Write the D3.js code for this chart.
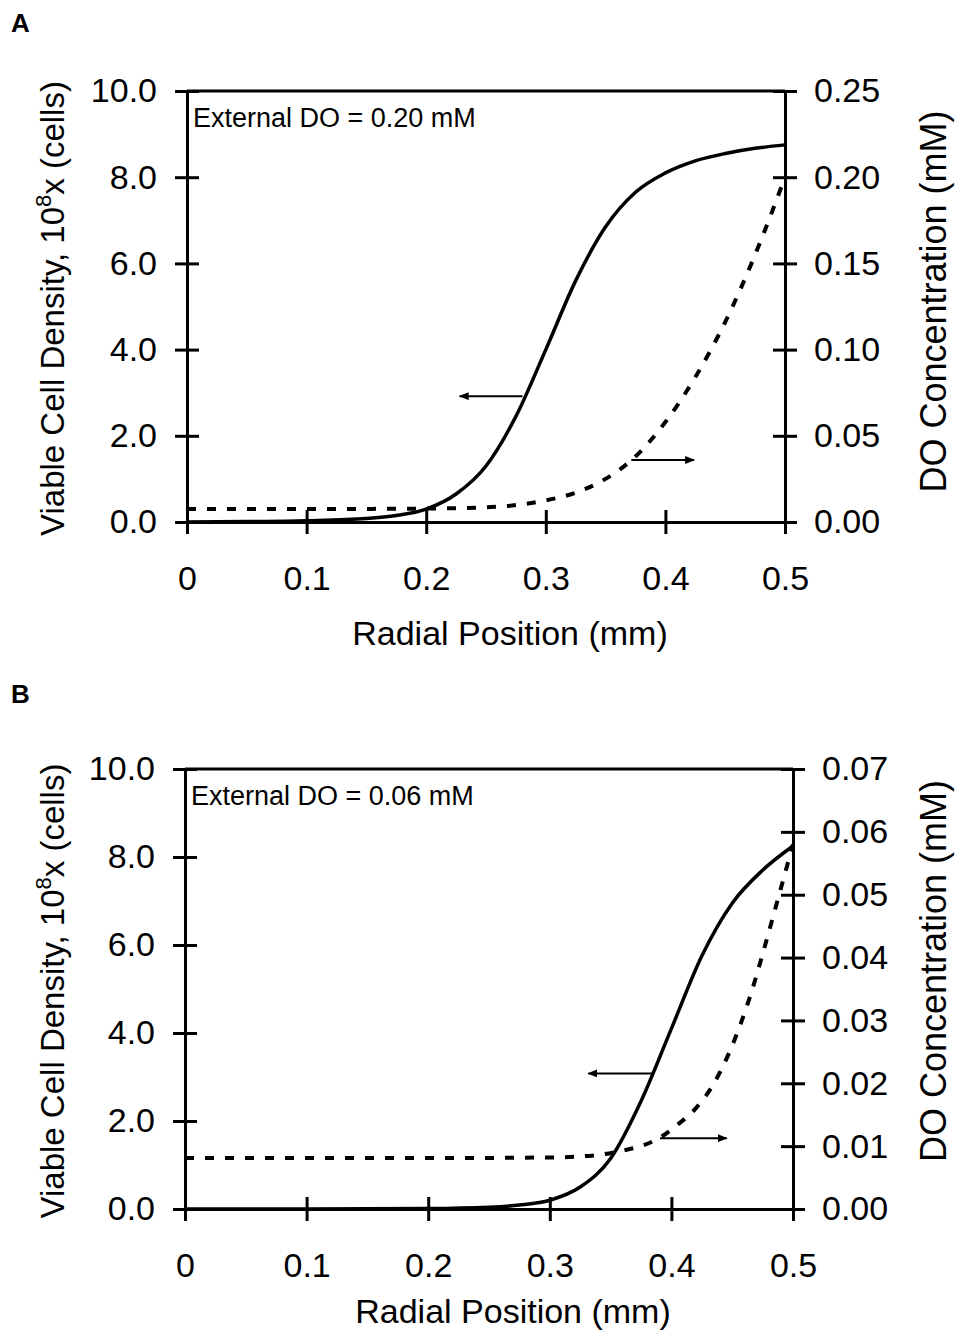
<!DOCTYPE html>
<html>
<head>
<meta charset="utf-8">
<script src="https://cdn.jsdelivr.net/npm/d3@7"></script>
<style>
body { margin: 0; background: #fff; }
svg text { font-family: Arial, "Liberation Sans", sans-serif; fill: #000; }
</style>
</head>
<body>
<div id="chart"></div>
<script>
// panel A: external DO = 0.20 mM
var radiusCellsA = [0, 0.05, 0.1, 0.15, 0.175, 0.2, 0.225, 0.25, 0.275, 0.3, 0.325, 0.35, 0.375, 0.4, 0.425, 0.45, 0.475, 0.5];
var cellsA       = [0, 0.01, 0.03, 0.08, 0.15, 0.3, 0.65, 1.3, 2.45, 4.0, 5.6, 6.85, 7.65, 8.1, 8.38, 8.55, 8.67, 8.75];
var radiusDoA    = [0, 0.05, 0.1, 0.15, 0.2, 0.25, 0.275, 0.3, 0.325, 0.35, 0.375, 0.4, 0.425, 0.45, 0.475, 0.5];
var doA          = [0.0075, 0.0075, 0.0075, 0.0076, 0.0078, 0.0085, 0.0098, 0.0125, 0.017, 0.025, 0.038, 0.058, 0.084, 0.116, 0.155, 0.2];

// panel B: external DO = 0.06 mM
var radiusCellsB = [0, 0.1, 0.2, 0.25, 0.275, 0.3, 0.325, 0.35, 0.375, 0.4, 0.425, 0.45, 0.475, 0.5];
var cellsB       = [0, 0, 0.01, 0.04, 0.09, 0.2, 0.5, 1.15, 2.45, 4.1, 5.75, 6.95, 7.7, 8.25];
var radiusDoB    = [0, 0.1, 0.2, 0.3, 0.34, 0.36, 0.375, 0.39, 0.405, 0.42, 0.435, 0.45, 0.465, 0.48, 0.49, 0.5];
var doB          = [0.0081, 0.0081, 0.0081, 0.0082, 0.0086, 0.0093, 0.01, 0.0113, 0.0134, 0.016, 0.02, 0.026, 0.034, 0.044, 0.051, 0.058];

// ticks
var xTicks = [0, 0.1, 0.2, 0.3, 0.4, 0.5];
var xTickLabels = ['0', '0.1', '0.2', '0.3', '0.4', '0.5'];
var leftTicks = [0, 2, 4, 6, 8, 10];
var rightTicksA = [0, 0.05, 0.1, 0.15, 0.2, 0.25];
var rightTicksB = [0, 0.01, 0.02, 0.03, 0.04, 0.05, 0.06, 0.07];

var chart_width = 955;
var chart_height = 1333;

var svg = d3.select('#chart')
    .append('svg')
    .attr('width', chart_width)
    .attr('height', chart_height);

var defs = svg.append('defs');
defs.append('marker')
    .attr('id', 'head')
    .attr('viewBox', '0 0 10 8')
    .attr('refX', 9)
    .attr('refY', 4)
    .attr('markerWidth', 10)
    .attr('markerHeight', 8)
    .attr('markerUnits', 'userSpaceOnUse')
    .attr('orient', 'auto')
    .append('path')
    .attr('d', 'M0,0 L10,4 L0,8 Z')
    .attr('fill', '#000');

var panels = [
    {
        letter: 'A', letterY: 32,
        left: 187, right: 785, top: 91, bottom: 522,
        rx: radiusCellsA, cells: cellsA, dx: radiusDoA, dO: doA,
        rMax: 0.25, rTicks: rightTicksA, rFmt: '.2f',
        note: 'External DO = 0.20 mM',
        titleGap: 123, rightTitleShift: -5,
        arrowL: [0.2805, 0.228, 2.92],
        arrowR: [0.3715, 0.424, 1.44]
    },
    {
        letter: 'B', letterY: 703,
        left: 185, right: 793, top: 769, bottom: 1209,
        rx: radiusCellsB, cells: cellsB, dx: radiusDoB, dO: doB,
        rMax: 0.07, rTicks: rightTicksB, rFmt: '.2f',
        note: 'External DO = 0.06 mM',
        titleGap: 114, rightTitleShift: -18,
        arrowL: [0.3846, 0.3317, 3.08],
        arrowR: [0.3906, 0.4455, 1.61]
    }
];

panels.forEach(function(p) {
    var xScale = d3.scaleLinear().domain([0, 0.5]).range([p.left, p.right]);
    var yScale = d3.scaleLinear().domain([0, 10]).range([p.bottom, p.top]);
    var y2Scale = d3.scaleLinear().domain([0, p.rMax]).range([p.bottom, p.top]);

    svg.append('text')
        .attr('x', 11)
        .attr('y', p.letterY)
        .attr('font-size', 26)
        .attr('font-weight', 'bold')
        .text(p.letter);

    // top border
    svg.append('line')
        .attr('x1', p.left).attr('x2', p.right)
        .attr('y1', p.top).attr('y2', p.top)
        .attr('stroke', '#000').attr('stroke-width', 3);

    var gx = svg.append('g')
        .attr('transform', 'translate(0,' + p.bottom + ')')
        .call(d3.axisBottom(xScale).tickValues(xTicks)
            .tickFormat(function(d, i) { return xTickLabels[i]; })
            .tickSizeInner(12).tickSizeOuter(0).tickPadding(32));
    gx.selectAll('.tick line').attr('y1', -12);

    var gl = svg.append('g')
        .attr('transform', 'translate(' + p.left + ',0)')
        .call(d3.axisLeft(yScale).tickValues(leftTicks)
            .tickFormat(d3.format('.1f'))
            .tickSizeInner(12).tickSizeOuter(0).tickPadding(18));
    gl.selectAll('.tick line').attr('x1', 12);

    var gr = svg.append('g')
        .attr('transform', 'translate(' + p.right + ',0)')
        .call(d3.axisRight(y2Scale).tickValues(p.rTicks)
            .tickFormat(d3.format(p.rFmt))
            .tickSizeInner(12).tickSizeOuter(0).tickPadding(17));
    gr.selectAll('.tick line').attr('x1', -12);

    [gx, gl, gr].forEach(function(g) {
        g.select('.domain').attr('stroke-width', 3);
        g.selectAll('.tick line').attr('stroke-width', 3);
        g.selectAll('.tick text')
            .attr('font-size', 34)
            .attr('font-family', 'Arial, "Liberation Sans", sans-serif');
    });

    // axis titles
    svg.append('text')
        .attr('x', (p.left + p.right) / 2 + 24)
        .attr('y', p.bottom + p.titleGap)
        .attr('text-anchor', 'middle')
        .attr('font-size', 34)
        .text('Radial Position (mm)');

    var lt = svg.append('text')
        .attr('transform', 'translate(64,' + ((p.top + p.bottom) / 2 + 2) + ') rotate(-90)')
        .attr('text-anchor', 'middle')
        .attr('font-size', 33);
    lt.append('tspan').text('Viable Cell Density, 10');
    lt.append('tspan').attr('font-size', 22).attr('dy', -13).text('8');
    lt.append('tspan').attr('dy', 13).text('x (cells)');

    svg.append('text')
        .attr('transform', 'translate(946,' + ((p.top + p.bottom) / 2 + p.rightTitleShift) + ') rotate(-90)')
        .attr('text-anchor', 'middle')
        .attr('font-size', 36)
        .text('DO Concentration (mM)');

    svg.append('text')
        .attr('x', p.left + 6)
        .attr('y', p.top + 36)
        .attr('font-size', 27)
        .text(p.note);

    // curves
    var cellLine = d3.line()
        .x(function(d) { return xScale(d[0]); })
        .y(function(d) { return yScale(d[1]); })
        .curve(d3.curveMonotoneX);
    var doLine = d3.line()
        .x(function(d) { return xScale(d[0]); })
        .y(function(d) { return y2Scale(d[1]); })
        .curve(d3.curveMonotoneX);

    svg.append('path')
        .datum(d3.zip(p.dx, p.dO))
        .attr('d', doLine)
        .attr('fill', 'none')
        .attr('stroke', '#000')
        .attr('stroke-width', 4)
        .attr('stroke-dasharray', '9,11');

    svg.append('path')
        .datum(d3.zip(p.rx, p.cells))
        .attr('d', cellLine)
        .attr('fill', 'none')
        .attr('stroke', '#000')
        .attr('stroke-width', 3.5);

    // arrows pointing to each axis
    [p.arrowL, p.arrowR].forEach(function(a) {
        svg.append('line')
            .attr('x1', xScale(a[0])).attr('x2', xScale(a[1]))
            .attr('y1', yScale(a[2])).attr('y2', yScale(a[2]))
            .attr('stroke', '#000')
            .attr('stroke-width', 2)
            .attr('marker-end', 'url(#head)');
    });
});
</script>
</body>
</html>
